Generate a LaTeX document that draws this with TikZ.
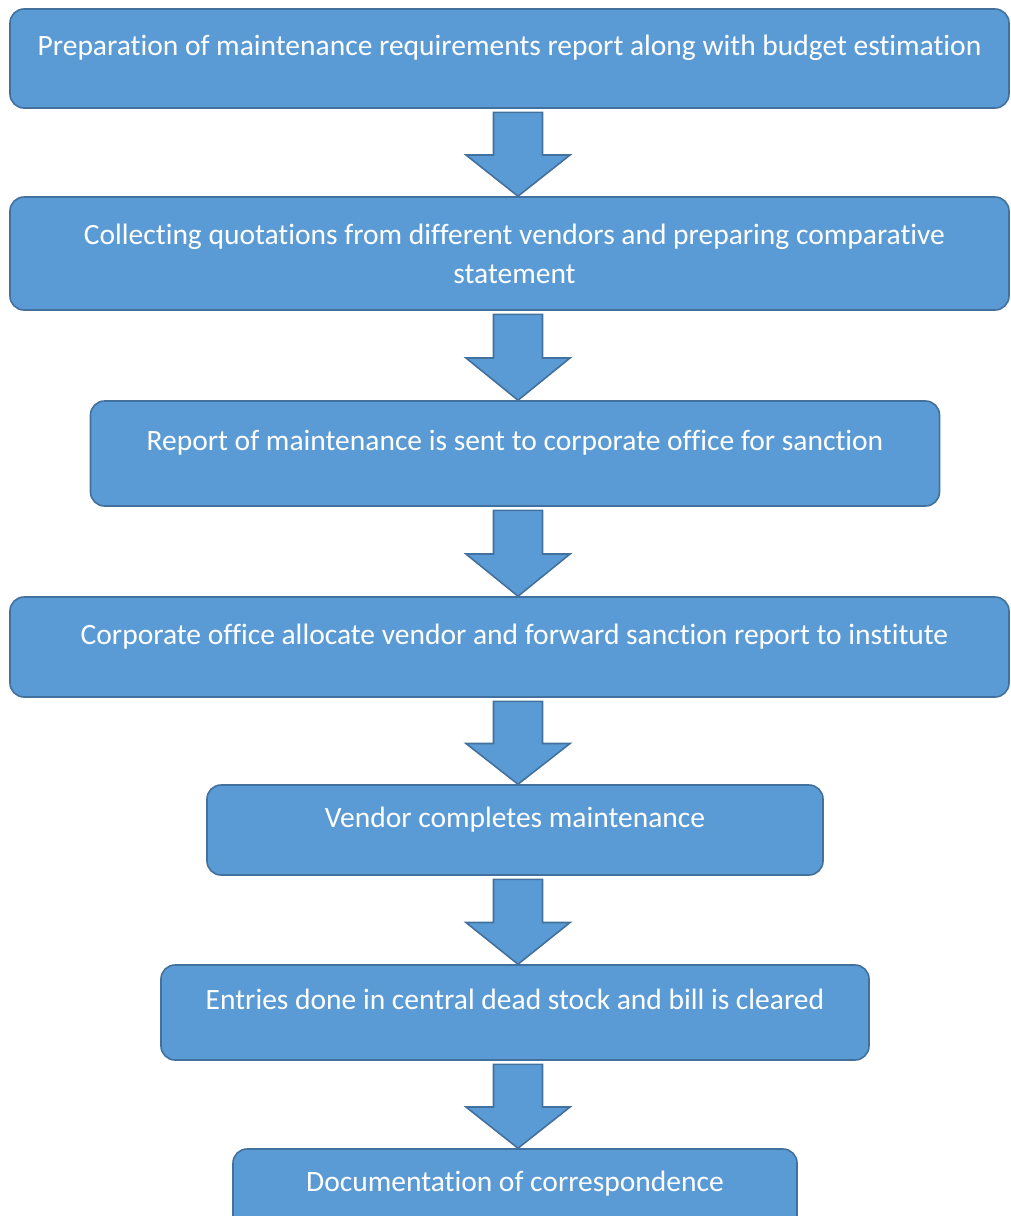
\documentclass[tikz,border=0pt]{standalone}
\usepackage{fontspec}
\setmainfont[Ligatures=NoCommon]{Carlito}
\usepackage{tikz}
\usetikzlibrary{calc}
\usetikzlibrary{positioning}
\definecolor{boxfill}{HTML}{5B9BD5}
\definecolor{boxline}{HTML}{41719C}
\tikzset{auto, x=1pt, y=-1pt, font=\fontsize{29.5}{39}\selectfont}
\tikzstyle{block} = [draw=boxline, fill=boxfill, line width=1.6pt, rectangle, rounded corners=14pt, text=white, inner sep=0pt, align=center, anchor=center]
\tikzstyle{oneline} = [text height=18pt, text depth=24pt]
\tikzstyle{blockarrow} = [draw=boxline, fill=boxfill, line width=1.6pt, line join=miter]
\newcommand{\flowarrow}[2]{%
	\draw [blockarrow] let \p1=(#1.south), \p2=(#2.north), \n1={(\y1+\y2)/2-2.5pt} in
		({518pt-24.5pt},{\y1-3.5pt}) -- ({518pt+24.5pt},{\y1-3.5pt}) -- ({518pt+24.5pt},\n1) -- ({518pt+52pt},\n1)
		-- (518pt,\y2) -- ({518pt-52pt},\n1) -- ({518pt-24.5pt},\n1) -- cycle;}

\begin{document}
\begin{tikzpicture}
		\useasboundingbox (0,0) rectangle (1010,1216);
		\node [block, oneline, minimum width=999pt, minimum height=99pt] (prep) at (509.5,58.5) {Preparation of maintenance requirements report along with budget estimation};
		\node [block, minimum width=999pt, minimum height=113pt] (quotes) at (509.5,253.5) {\hspace*{10pt}Collecting quotations from different vendors and preparing comparative\\\hspace*{10pt}statement};
		\node [block, oneline, minimum width=849pt, minimum height=105pt] (report) at (515,453.5) {Report of maintenance is sent to corporate office for sanction};
		\node [block, oneline, minimum width=999pt, minimum height=100pt] (alloc) at (509.5,647) {\hspace*{10pt}Corporate office allocate vendor and forward sanction report to institute};
		\node [block, oneline, minimum width=616pt, minimum height=90pt] (vendor) at (515,830) {Vendor completes maintenance};
		\node [block, oneline, minimum width=708pt, minimum height=95pt] (entries) at (515,1012.5) {Entries done in central dead stock and bill is cleared};
		\node [block, oneline, minimum width=564pt, minimum height=90pt] (docs) at (515,1194) {Documentation of correspondence};

		\flowarrow{prep}{quotes}
		\flowarrow{quotes}{report}
		\flowarrow{report}{alloc}
		\flowarrow{alloc}{vendor}
		\flowarrow{vendor}{entries}
		\flowarrow{entries}{docs}
	\end{tikzpicture}
\end{document}
